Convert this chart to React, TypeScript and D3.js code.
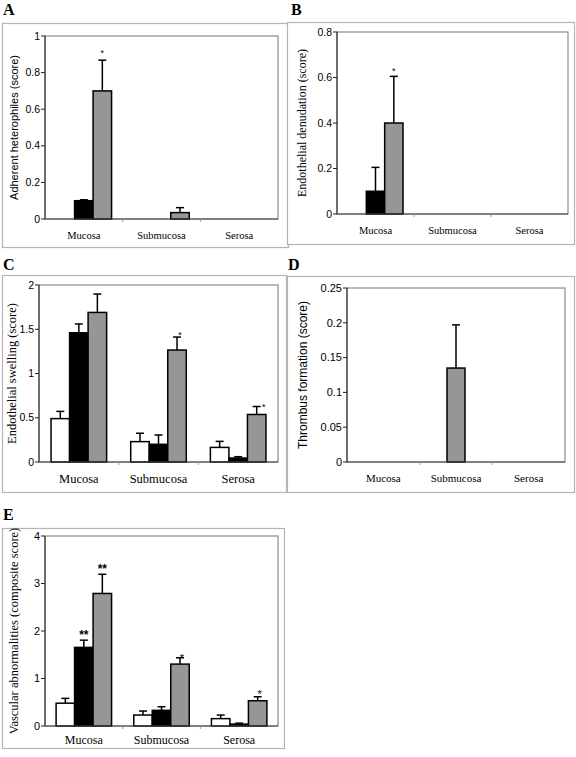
import React from "react";
import * as d3 from "d3";

// ---------- data ----------
const categories = ["Mucosa", "Submucosa", "Serosa"];
const seriesKeys = ["white", "black", "gray"];

// A: Adherent heterophiles
const aWhite = [0, 0, 0];
const aBlack = [0.1, 0, 0];
const aGray = [0.7, 0.035, 0];
const aWhiteErr = [0, 0, 0];
const aBlackErr = [0.005, 0, 0];
const aGrayErr = [0.168, 0.027, 0];
const aTicks = [0, 0.2, 0.4, 0.6, 0.8, 1];
const aStars = [{ cat: "Mucosa", series: "gray", text: "*", value: 0.92 }];

// B: Endothelial denudation
const bWhite = [0, 0, 0];
const bBlack = [0.1, 0, 0];
const bGray = [0.4, 0, 0];
const bWhiteErr = [0, 0, 0];
const bBlackErr = [0.105, 0, 0];
const bGrayErr = [0.205, 0, 0];
const bTicks = [0, 0.2, 0.4, 0.6, 0.8];
const bStars = [{ cat: "Mucosa", series: "gray", text: "*", value: 0.635 }];

// C: Endothelial swelling
const cWhite = [0.49, 0.23, 0.165];
const cBlack = [1.46, 0.2, 0.045];
const cGray = [1.69, 1.265, 0.537];
const cWhiteErr = [0.082, 0.095, 0.068];
const cBlackErr = [0.1, 0.105, 0.015];
const cGrayErr = [0.208, 0.147, 0.09];
const cTicks = [0, 0.5, 1, 1.5, 2];
const cStars = [
  { cat: "Submucosa", series: "gray", text: "*", value: 1.455 },
  { cat: "Serosa", series: "gray", text: "*", value: 0.64 },
];

// D: Thrombus formation
const dGray = [0, 0.135, 0];
const dGrayErr = [0, 0.062, 0];
const dTicks = [0, 0.05, 0.1, 0.15, 0.2, 0.25];

// E: Vascular abnormalities
const eWhite = [0.48, 0.231, 0.155];
const eBlack = [1.655, 0.33, 0.04];
const eGray = [2.79, 1.303, 0.532];
const eWhiteErr = [0.102, 0.084, 0.076];
const eBlackErr = [0.152, 0.076, 0.02];
const eGrayErr = [0.404, 0.133, 0.084];
const eTicks = [0, 1, 2, 3, 4];
const eStars = [
  { cat: "Mucosa", series: "black", text: "**", value: 1.98 },
  { cat: "Mucosa", series: "gray", text: "**", value: 3.37 },
  { cat: "Submucosa", series: "gray", text: "*", value: 1.47 },
  { cat: "Serosa", series: "gray", text: "*", value: 0.71 },
];

const fills: Record<string, string> = { white: "#ffffff", black: "#000000", gray: "#969696" };

type Star = { cat: string; series: string; text: string; value: number };
type PanelProps = {
  letter: string;
  letterPos: [number, number];
  box: { x: number; y: number; w: number; h: number };
  plot: { x: number; y: number; w: number; h: number };
  max: number;
  ticks: number[];
  series: string[];
  values: Record<string, number[]>;
  errors: Record<string, number[]>;
  stars: Star[];
  starOffsets: number[];
  outer: number;
  title: string;
  titleX: number;
  titleFont: string;
  titleSize: number;
  tickSize: number;
  catSize: number;
  catY: number;
  starSize: number;
};

const SANS = "'Liberation Sans', Arial, sans-serif";
const SERIF = "'Liberation Serif', 'Times New Roman', serif";

function Panel(p: PanelProps) {
  const { plot } = p;
  const x0 = d3.scaleBand<string>().domain(categories).range([plot.x, plot.x + plot.w]).padding(0);
  const x1 = d3
    .scaleBand<string>()
    .domain(p.series)
    .range([0, x0.bandwidth()])
    .paddingInner(0)
    .paddingOuter(p.outer);
  const y = d3.scaleLinear().domain([0, p.max]).range([plot.y + plot.h, plot.y]);
  const bw = x1.bandwidth();
  const capHalf = 4;
  const y0 = y(0);

  return (
    <g>
      <rect x={p.box.x + 0.5} y={p.box.y + 0.5} width={p.box.w} height={p.box.h} fill="#fff" stroke="#b4b4b4" strokeWidth={1.2} />
      <text x={p.letterPos[0]} y={p.letterPos[1]} fontFamily={SERIF} fontWeight="bold" fontSize={16}>
        {p.letter}
      </text>
      <rect x={plot.x} y={plot.y} width={plot.w} height={plot.h} fill="none" stroke="#8c8c8c" strokeWidth={1.2} />
      {p.series.map((s) =>
        categories.map((c, i) => {
          const v = p.values[s][i];
          const e = p.errors[s][i];
          const bx = (x0(c) as number) + (x1(s) as number);
          const cx = bx + bw / 2;
          return (
            <g key={s + c}>
              {e > 0 && (
                <g stroke="#000" strokeWidth={1.5}>
                  <line x1={cx} x2={cx} y1={y(v)} y2={y(v + e)} />
                  <line x1={cx - capHalf} x2={cx + capHalf} y1={y(v + e)} y2={y(v + e)} />
                </g>
              )}
              <rect
                x={bx}
                y={y(v)}
                width={bw}
                height={Math.max(0, y0 - y(v))}
                fill={fills[s]}
                stroke={v > 0 ? "#000" : "#999"}
                strokeWidth={v > 0 ? 1.5 : 1}
              />
            </g>
          );
        })
      )}
      <line x1={plot.x} x2={plot.x} y1={plot.y} y2={y0} stroke="#222" strokeWidth={1} />
      {p.ticks.map((t) => (
        <g key={t}>
          <line x1={plot.x - 4} x2={plot.x} y1={y(t)} y2={y(t)} stroke="#222" />
          <text x={plot.x - 5} y={y(t)} dy="0.35em" textAnchor="end" fontFamily={SANS} fontSize={p.tickSize}>
            {String(t)}
          </text>
        </g>
      ))}
      <line x1={plot.x} x2={plot.x + plot.w} y1={y0} y2={y0} stroke="#444" strokeWidth={1} />
      {categories.map((c, i) => (
        <g key={c}>
          {i > 0 && <line x1={x0(c)} x2={x0(c)} y1={y0} y2={y0 + 3} stroke="#999" />}
          <text
            x={(x0(c) as number) + x0.bandwidth() / 2}
            y={p.catY}
            dy="0.35em"
            textAnchor="middle"
            fontFamily={SERIF}
            fontSize={p.catSize}
          >
            {c}
          </text>
        </g>
      ))}
      {p.stars.map((st, k) => {
        const cx = (x0(st.cat) as number) + (x1(st.series) as number) + bw / 2 + (p.starOffsets[k] || 0);
        return (
          <text
            key={k}
            x={cx}
            y={y(st.value)}
            dy="0.55em"
            textAnchor="middle"
            fontFamily={SANS}
            fontSize={st.text === "**" ? p.starSize + 1 : p.starSize}
            fontWeight={st.text === "**" ? "bold" : "normal"}
          >
            {st.text}
          </text>
        );
      })}
      <text
        transform={`translate(${p.titleX},${plot.y + plot.h / 2}) rotate(-90)`}
        textAnchor="middle"
        dy="0.35em"
        fontFamily={p.titleFont}
        fontSize={p.titleSize}
      >
        {p.title}
      </text>
    </g>
  );
}

export default function App() {
  return (
    <div style={{ position: "absolute", left: 0, top: 0 }}>
      <svg width={576} height={757} style={{ display: "block" }}>
        <rect width={576} height={757} fill="#fff" />
        <Panel
          letter="A"
          letterPos={[3, 15]}
          box={{ x: 2, y: 23, w: 286, h: 224 }}
          plot={{ x: 45, y: 36, w: 233, h: 183 }}
          max={1}
          ticks={aTicks}
          series={seriesKeys}
          values={{ white: aWhite, black: aBlack, gray: aGray }}
          errors={{ white: aWhiteErr, black: aBlackErr, gray: aGrayErr }}
          stars={aStars}
          starOffsets={[0]}
          outer={0.6}
          title="Adherent heterophiles (score)"
          titleX={14}
          titleFont={SANS}
          titleSize={11}
          tickSize={10.5}
          catSize={10.5}
          catY={235}
          starSize={9}
        />
        <Panel
          letter="B"
          letterPos={[291, 15]}
          box={{ x: 287, y: 22, w: 287, h: 222 }}
          plot={{ x: 337, y: 32, w: 231, h: 182 }}
          max={0.8}
          ticks={bTicks}
          series={seriesKeys}
          values={{ white: bWhite, black: bBlack, gray: bGray }}
          errors={{ white: bWhiteErr, black: bBlackErr, gray: bGrayErr }}
          stars={bStars}
          starOffsets={[0]}
          outer={0.6}
          title="Endothelial denudation (score)"
          titleX={302}
          titleFont={SERIF}
          titleSize={12}
          tickSize={10.5}
          catSize={10.5}
          catY={230}
          starSize={9}
        />
        <Panel
          letter="C"
          letterPos={[3, 270]}
          box={{ x: 2, y: 275, w: 284, h: 217 }}
          plot={{ x: 39, y: 285, w: 239, h: 177 }}
          max={2}
          ticks={cTicks}
          series={seriesKeys}
          values={{ white: cWhite, black: cBlack, gray: cGray }}
          errors={{ white: cWhiteErr, black: cBlackErr, gray: cGrayErr }}
          stars={cStars}
          starOffsets={[3, 7]}
          outer={0.65}
          title="Endothelial swelling (score)"
          titleX={12}
          titleFont={SERIF}
          titleSize={12.5}
          tickSize={10.5}
          catSize={12.5}
          catY={479}
          starSize={9}
        />
        <Panel
          letter="D"
          letterPos={[288, 270]}
          box={{ x: 287, y: 276, w: 287, h: 216 }}
          plot={{ x: 347, y: 288, w: 218, h: 174 }}
          max={0.25}
          ticks={dTicks}
          series={["gray"]}
          values={{ gray: dGray }}
          errors={{ gray: dGrayErr }}
          stars={[]}
          starOffsets={[]}
          outer={1.52}
          title="Thrombus formation (score)"
          titleX={303}
          titleFont={SANS}
          titleSize={12}
          tickSize={11}
          catSize={11}
          catY={478}
          starSize={9}
        />
        <Panel
          letter="E"
          letterPos={[3, 520]}
          box={{ x: 2, y: 528, w: 282, h: 220 }}
          plot={{ x: 45, y: 536, w: 233, h: 190 }}
          max={4}
          ticks={eTicks}
          series={seriesKeys}
          values={{ white: eWhite, black: eBlack, gray: eGray }}
          errors={{ white: eWhiteErr, black: eBlackErr, gray: eGrayErr }}
          stars={eStars}
          starOffsets={[0, 0, 2, 2]}
          outer={0.6}
          title="Vascular abnormalities (composite score)"
          titleX={14}
          titleFont={SERIF}
          titleSize={12.5}
          tickSize={11}
          catSize={12}
          catY={740}
          starSize={11}
        />
      </svg>
    </div>
  );
}
